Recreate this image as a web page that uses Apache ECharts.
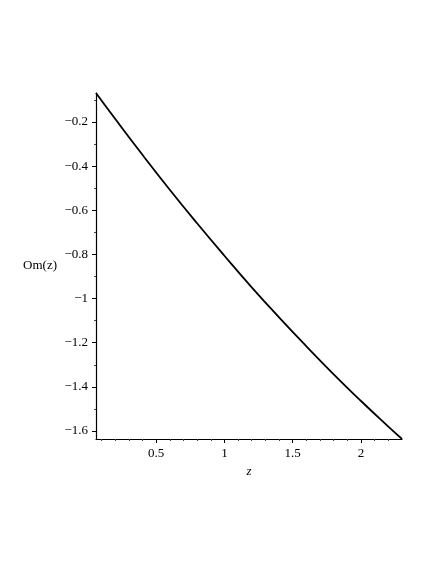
<!DOCTYPE html>
<html>
<head>
<meta charset="utf-8">
<script src="https://cdn.jsdelivr.net/npm/echarts@6/dist/echarts.min.js"></script>
<style>
  html, body { margin: 0; padding: 0; background: #fff; }
  #chart { width: 436px; height: 564px; }
</style>
</head>
<body>
<div id="chart"></div>
<script>
// values
var zValues = [0.06, 0.2, 0.4, 0.6, 0.8, 1.0, 1.2, 1.4, 1.6, 1.8, 2.0, 2.2, 2.3]
var omValues = [-0.069, -0.186, -0.349, -0.507, -0.659, -0.806, -0.949, -1.085, -1.216, -1.343, -1.464, -1.580, -1.636]

var xTicks = [0.5, 1, 1.5, 2]
var xMinorTicks = [0.1, 0.2, 0.3, 0.4, 0.6, 0.7, 0.8, 0.9, 1.1, 1.2, 1.3, 1.4, 1.6, 1.7, 1.8, 1.9, 2.1, 2.2]
var yTicks = [-1.6, -1.4, -1.2, -1, -0.8, -0.6, -0.4, -0.2]
var yMinorTicks = [-1.5, -1.3, -1.1, -0.9, -0.7, -0.5, -0.3, -0.1]

var xMin = 0.06, xMax = 2.3
var yMin = -1.636, yMax = -0.069

var font = 'Liberation Serif'

function fmtY(v) {
  return '\u2212' + Math.abs(v)
}

var data = []
for (var i = 0; i < zValues.length; i++) {
  data.push([zValues[i], omValues[i]])
}

var chart = echarts.init(document.getElementById('chart'))

chart.setOption({
  backgroundColor: '#fff',
  animation: false,
  grid: {
    left: 96,
    right: 34,
    top: 93,
    bottom: 125
  },
  xAxis: [{
    type: 'value',
    min: xMin,
    max: xMax,
    name: 'z',
    nameLocation: 'middle',
    nameGap: 21,
    nameTextStyle: { color: '#000', fontFamily: font, fontSize: 13, fontStyle: 'italic' },
    axisLine: { show: true, lineStyle: { color: '#000', width: 1.2 } },
    axisTick: { show: true, length: 4, customValues: xTicks, lineStyle: { color: '#000' } },
    axisLabel: {
      customValues: xTicks,
      color: '#000',
      fontFamily: font,
      fontSize: 13,
      margin: 8
    },
    splitLine: { show: false }
  }, {
    type: 'value',
    min: xMin,
    max: xMax,
    position: 'bottom',
    axisLine: { show: false },
    axisTick: { show: true, length: 2, customValues: xMinorTicks, lineStyle: { color: '#444' } },
    axisLabel: { show: false },
    splitLine: { show: false }
  }],
  yAxis: [{
    type: 'value',
    min: yMin,
    max: yMax,
    name: 'Om(z)',
    nameLocation: 'middle',
    nameRotate: 0,
    nameGap: 39,
    nameTextStyle: { color: '#000', fontFamily: font, fontSize: 13, padding: [0, 0, 60, 0] },
    axisLine: { show: true, lineStyle: { color: '#000', width: 1.2 } },
    axisTick: { show: true, length: 4, customValues: yTicks, lineStyle: { color: '#000' } },
    axisLabel: {
      customValues: yTicks,
      formatter: fmtY,
      color: '#000',
      fontFamily: font,
      fontSize: 13,
      margin: 8
    },
    splitLine: { show: false }
  }, {
    type: 'value',
    min: yMin,
    max: yMax,
    position: 'left',
    axisLine: { show: false },
    axisTick: { show: true, length: 2, customValues: yMinorTicks, lineStyle: { color: '#444' } },
    axisLabel: { show: false },
    splitLine: { show: false }
  }],
  series: [{
    type: 'line',
    data: data,
    smooth: true,
    showSymbol: false,
    lineStyle: { color: '#000', width: 1.8 },
    itemStyle: { color: '#000' }
  }]
})
</script>
</body>
</html>
